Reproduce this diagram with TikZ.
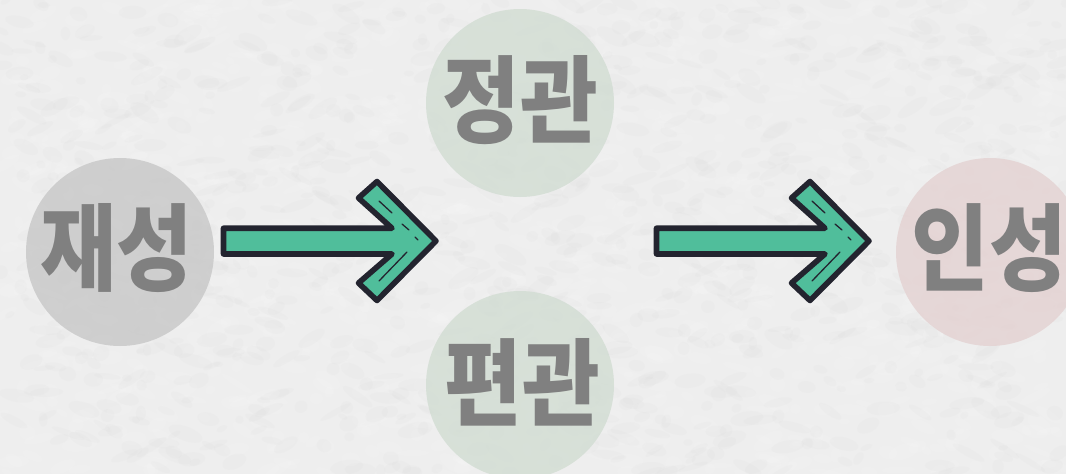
\documentclass[tikz,border=0pt]{standalone}
\usepackage{fontspec}
\newfontfamily\kr{Noto Sans CJK KR Black}
\usetikzlibrary{calc}
\definecolor{paper}{HTML}{EEEEEE}
\definecolor{paperd}{HTML}{D4D4D4}
\definecolor{paperl}{HTML}{FFFFFF}
\definecolor{inkgray}{HTML}{808080}
\definecolor{cgray}{HTML}{C8C8C8}
\definecolor{cgreen}{HTML}{D2DDD3}
\definecolor{cred}{HTML}{E4D2D2}
\definecolor{arrowfill}{HTML}{50BE9B}
\definecolor{arrowline}{HTML}{23242F}
\newcommand{\stretched}[1]{\scalebox{1.07}[1.2]{#1}}
\newcommand{\stretchednarrow}[1]{\scalebox{1.05}[1.2]{#1}}
\tikzset{
  x=1pt,y=-1pt,
  bubble/.style={circle,minimum size=188pt,inner sep=0pt,fill opacity=.82},
  glyphs/.style={inner sep=0pt,text=inkgray,text opacity=1,font=\kr\fontsize{79}{79}\selectfont},
  arrowbody/.style={fill=arrowfill,draw=arrowline,line width=5.6pt,line join=round},
  arrowmark/.style={draw=arrowline,line width=1.3pt,line cap=round},
  pics/bigarrow/.style={code={
    \draw[arrowbody] (223.5,228.2) -- (392,228.2) -- (358.5,198) -- (377,181.5) -- (436,241) -- (377,300.5) -- (358.5,283) -- (392,254) -- (223.5,254) -- cycle;
    \draw[arrowmark] (379,201) -- (392,213);
    \draw[arrowmark] (402,224) -- (409,230);
    \draw[arrowmark] (415,237) -- (418,240);
    \draw[arrowmark] (379,281) -- (407,252);
  }}
}
\begin{document}
\begin{tikzpicture}
\useasboundingbox (0,0) rectangle (1066,474);
\clip (0,0) rectangle (1066,474);
\fill[paper] (0,0) rectangle (1066,474);
\pgfmathsetseed{11}
\foreach \i in {1,...,2200}{
  \pgfmathsetmacro{\px}{rnd*1066}
  \pgfmathsetmacro{\py}{rnd*474}
  \pgfmathsetmacro{\prx}{4+rnd*14}
  \pgfmathsetmacro{\pry}{2.5+rnd*5}
  \pgfmathsetmacro{\pa}{rnd*70-35}
  \pgfmathtruncatemacro{\pc}{mod(\i,2)}
  \ifnum\pc=0\def\pcol{paperd}\else\def\pcol{paperl}\fi
  \fill[\pcol,opacity=.09,rotate around={\pa:(\px,\py)}] (\px,\py) ellipse[x radius=\prx,y radius=\pry];
}
\node[bubble,fill=cgray,label={[glyphs,xshift=-3pt,yshift=4pt]center:\stretchednarrow{재성}}] (jaeseong) at (120,252) {};
\node[bubble,fill=cgreen,label={[glyphs,xshift=0.5pt,yshift=3pt]center:\stretched{정관}}] (jeonggwan) at (520,103) {};
\node[bubble,fill=cgreen,label={[glyphs,xshift=2pt,yshift=3pt]center:\stretched{편관}}] (pyeongwan) at (520,385) {};
\node[bubble,fill=cred,label={[glyphs,xshift=-0.5pt,yshift=4pt]center:\stretched{인성}}] (inseong) at (990,252) {};
\pic (arrowa) at (0,0) {bigarrow};
\pic (arrowb) at (433,0) {bigarrow};
\end{tikzpicture}
\end{document}
